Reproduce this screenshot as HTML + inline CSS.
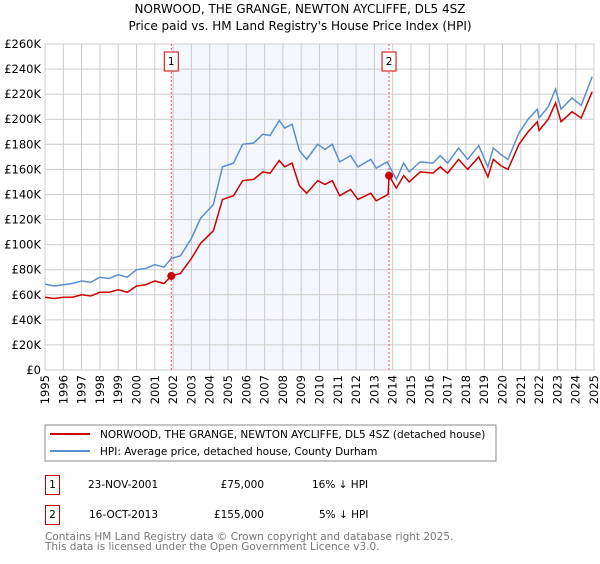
<!DOCTYPE html>
<html><head><meta charset="utf-8"><style>
body{margin:0;background:#fff;width:600px;height:560px;overflow:hidden;font-family:"DejaVu Sans","Liberation Sans",sans-serif}
svg text{font-family:"DejaVu Sans","Liberation Sans",sans-serif}
</style></head><body>
<svg id="chart" width="600" height="560" xmlns="http://www.w3.org/2000/svg">
<text x="300" y="13" text-anchor="middle" font-size="12">NORWOOD, THE GRANGE, NEWTON AYCLIFFE, DL5 4SZ</text>
<text x="300" y="30" text-anchor="middle" font-size="12">Price paid vs. HM Land Registry's House Price Index (HPI)</text>
<g id="plot"></g>
<g>
<rect x="45" y="425" width="451" height="36" fill="#fff" stroke="#888" stroke-width="1"/>
<line x1="50" y1="434" x2="90" y2="434" stroke="#cc0000" stroke-width="2"/>
<text x="100" y="438" font-size="10.5">NORWOOD, THE GRANGE, NEWTON AYCLIFFE, DL5 4SZ (detached house)</text>
<line x1="50" y1="451" x2="90" y2="451" stroke="#5b8ed0" stroke-width="2"/>
<text x="100" y="455" font-size="10.5">HPI: Average price, detached house, County Durham</text>
</g>
<g font-size="10.5">
<rect x="45.5" y="475.5" width="14" height="19" fill="#fff" stroke="#cc0000"/>
<text x="52.5" y="488" text-anchor="middle">1</text>
<text x="88" y="488">23-NOV-2001</text>
<text x="264" y="488" text-anchor="end">£75,000</text>
<text x="312" y="488">16% ↓ HPI</text>
</g>
<g font-size="10.5">
<rect x="45.5" y="505.5" width="14" height="19" fill="#fff" stroke="#cc0000"/>
<text x="52.5" y="518" text-anchor="middle">2</text>
<text x="89" y="518">16-OCT-2013</text>
<text x="264" y="518" text-anchor="end">£155,000</text>
<text x="319" y="518">5% ↓ HPI</text>
</g>
<text x="45" y="540" font-size="10.5" fill="#777">Contains HM Land Registry data © Crown copyright and database right 2025.</text>
<text x="45" y="550" font-size="10.5" fill="#777">This data is licensed under the Open Government Licence v3.0.</text>
</svg>
<script>
const hpiYears=[1995,1995.5,1996,1996.5,1997,1997.5,1998,1998.5,1999,1999.5,2000,2000.5,2001,2001.5,2001.9,2002.4,2003,2003.5,2004.2,2004.7,2005.3,2005.8,2006.4,2006.9,2007.3,2007.8,2008.1,2008.5,2008.9,2009.3,2009.9,2010.3,2010.7,2011.1,2011.7,2012.1,2012.8,2013.1,2013.7,2014.2,2014.6,2014.9,2015.5,2016.2,2016.6,2017.0,2017.6,2018.1,2018.7,2019.2,2019.5,2019.9,2020.3,2020.9,2021.4,2021.9,2022.0,2022.5,2022.9,2023.2,2023.8,2024.3,2024.9];
const hpiValues=[68.5,67,68,69,71,70,74,73,76,74,80,81,84,82,89,91,105,121,132,162,165,180,181,188,187,199,193,196,175,168,180,176,180,166,171,162,168,161,166,152,165,158,166,165,171,165,177,168,179,162,177,172,168,189,200,208,201,210,224,208,217,211,234];
const priceYears=[1995,1995.5,1996,1996.5,1997,1997.5,1998,1998.5,1999,1999.5,2000,2000.5,2001,2001.5,2001.9,2002.4,2003,2003.5,2004.2,2004.7,2005.3,2005.8,2006.4,2006.9,2007.3,2007.8,2008.1,2008.5,2008.9,2009.3,2009.9,2010.3,2010.7,2011.1,2011.7,2012.1,2012.8,2013.1,2013.75,2013.8,2014.2,2014.6,2014.9,2015.5,2016.2,2016.6,2017.0,2017.6,2018.1,2018.7,2019.2,2019.5,2019.9,2020.3,2020.9,2021.4,2021.9,2022.0,2022.5,2022.9,2023.2,2023.8,2024.3,2024.9];
const priceValues=[58,57,58,58,60,59,62,62,64,62,67,68,71,69,75,77,89,101,111,136,139,151,152,158,157,167,162,165,147,141,151,148,151,139,144,136,141,135,140,155,145,155,150,158,157,162,157,168,160,170,154,168,163,160,180,190,198,191,200,213,198,206,201,222];
const saleYears=[2001.9,2013.8];
const saleValues=[75,155];
const saleLabels=["1","2"];
const yTicks=[0,20,40,60,80,100,120,140,160,180,200,220,240,260];
const xTicks=[1995,1996,1997,1998,1999,2000,2001,2002,2003,2004,2005,2006,2007,2008,2009,2010,2011,2012,2013,2014,2015,2016,2017,2018,2019,2020,2021,2022,2023,2024,2025];

const X0=45,X1=594,Y0=370,Y1=44;
const xs=y=>X0+(y-1995)/30*(X1-X0);
const ys=v=>Y0-v/260*(Y0-Y1);
const NS="http://www.w3.org/2000/svg";
const g=document.getElementById('plot');
function mk(t,a){const e=document.createElementNS(NS,t);for(const k in a)e.setAttribute(k,a[k]);g.appendChild(e);return e;}
const bg=mk('rect',{x:X0,y:Y1,width:X1-X0,height:Y0-Y1,fill:'#fff'});


const sh=mk('rect',{x:xs(saleYears[0]),y:Y1,width:xs(saleYears[1])-xs(saleYears[0]),height:Y0-Y1,fill:'#f4f7fd'});


yTicks.forEach(v=>{
 const l=mk('line',{x1:X0,x2:X1,y1:ys(v),y2:ys(v),stroke:'#ccc','stroke-width':1});
 
 
 const t=mk('text',{x:X0-4,y:ys(v)+4,'text-anchor':'end','font-size':'11.5'});
 t.textContent=v===0?'£0':'£'+v+'K';
 
 
});
xTicks.forEach(y=>{
 const l=mk('line',{x1:xs(y),x2:xs(y),y1:Y1,y2:Y0,stroke:'#ccc','stroke-width':1});
 
 
 const t=mk('text',{x:0,y:0,'text-anchor':'end','font-size':'11.5',transform:`translate(${xs(y)+4},${Y0+5}) rotate(-90)`});
 t.textContent=y;
 
 
});
const fr=mk('rect',{x:X0,y:Y1,width:X1-X0,height:Y0-Y1,fill:'none',stroke:'#ccc'});


saleYears.forEach((y,i)=>{
 const l=mk('line',{x1:xs(y),x2:xs(y),y1:Y1,y2:Y0,stroke:'#e55','stroke-width':1,'stroke-dasharray':'2,2'});
 
 
 const b=mk('rect',{x:xs(y)-7,y:52,width:14,height:19,fill:'#fff',stroke:'#cc0000'});
 
 
 const t=mk('text',{x:xs(y),y:65,'text-anchor':'middle','font-size':'10.5'});
 t.textContent=saleLabels[i];
 
 
});
const hp=mk('polyline',{points:hpiYears.map((y,i)=>xs(y)+','+ys(hpiValues[i])).join(' '),fill:'none',stroke:'#5b8ed0','stroke-width':1.5});


const pp=mk('polyline',{points:priceYears.map((y,i)=>xs(y)+','+ys(priceValues[i])).join(' '),fill:'none',stroke:'#cc0000','stroke-width':1.5});


saleYears.forEach((y,i)=>{
 const c=mk('circle',{cx:xs(y),cy:ys(saleValues[i]),r:4,fill:'#cc0000'});
 
 
});
</script>
</body></html>
